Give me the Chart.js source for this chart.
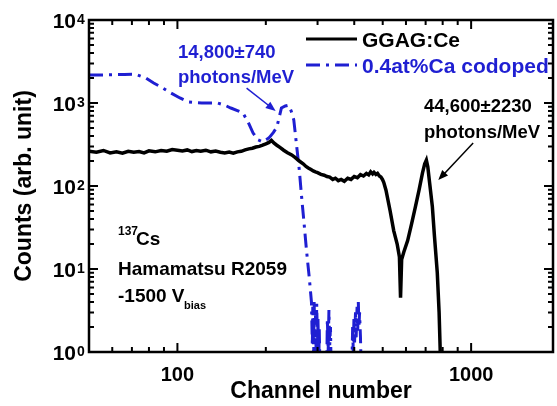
<!DOCTYPE html>
<html>
<head>
<meta charset="utf-8">
<script src="https://cdn.jsdelivr.net/npm/chart.js@4.4.1/dist/chart.umd.min.js"></script>
<style>
  html, body { margin: 0; padding: 0; background: #fff; }
  #wrap { width: 557px; height: 406px; position: relative; }
</style>
</head>
<body>
<div id="wrap"><canvas id="spec"></canvas></div>
<script>
// GGAG:Ce pulse height spectrum (137Cs)
const ggagChannel = [50, 53, 56, 59, 62, 65, 68, 71, 74, 77, 80, 84, 88, 92, 96, 100, 104, 108, 112, 116,
  120, 125, 130, 135, 140, 145, 150, 155, 160, 165, 170, 175, 180, 185, 190, 195, 200, 205, 209, 213,
  218, 224, 230, 237, 245, 252, 260, 268, 274, 279, 285, 290, 295, 300, 308, 316, 323, 330, 338, 345,
  353, 361, 370, 380, 390, 400, 410, 420, 430, 440, 448, 455, 462, 467, 474, 480, 487, 493, 499, 504,
  513, 530, 545, 560, 570, 575, 580, 590, 608, 627, 646, 665, 683, 695, 704, 712,
  722, 738, 750, 767, 778, 785, 790];
const ggagCounts = [262, 255, 268, 250, 258, 248, 262, 255, 260, 250, 265, 258, 268, 262, 275, 270, 265, 272, 260, 268,
  262, 270, 258, 264, 255, 250, 256, 248, 258, 262, 272, 280, 285, 295, 300, 310, 322, 335, 355, 330,
  310, 290, 270, 252, 237, 220, 200, 185, 172, 165, 158, 152, 148, 145, 138, 135, 130, 128, 120, 124,
  116, 120, 114, 124, 120, 130, 126, 137, 132, 142, 136, 148, 140, 146, 138, 142, 132, 128, 120, 111,
  89, 50, 29, 20, 14, 4.5, 13, 16, 22, 35, 56, 90, 144, 185, 205, 170,
  110, 56, 25, 9, 3, 1, 0.8];

// 0.4at% Ca codoped
const caChannel = [50, 55, 60, 66, 72, 78, 83, 89, 95, 102, 109, 115, 121, 130, 137, 145, 152, 160, 167, 174,
  181, 188, 195, 205, 212, 218, 226, 233, 239, 244, 249, 254, 260, 264, 270, 275, 281, 286, 288, 289,
  291, 292, 294, 295, 297, 298, 300, 301, 303, 304, 306, 322, 324, 326, 328, 330, 332, 334, 392, 395,
  397, 399, 401, 404, 406, 409, 411, 413, 415, 417, 420, 423];
const caCounts = [2180, 2180, 2190, 2210, 2220, 2000, 1740, 1520, 1320, 1150, 1030, 1010, 1000, 1000, 1000, 940, 870, 810, 760, 590,
  435, 360, 340, 380, 440, 510, 870, 920, 940, 800, 625, 330, 156, 83, 35, 17, 8, 4, 1.2, 3.5,
  0.8, 4, 1.5, 3, 0.8, 3.8, 1.2, 2.5, 0.7, 2, 0.5, 0.5, 2.5, 1, 3.2, 1.2, 2, 0.5, 0.5, 2,
  1, 2.5, 1.3, 3, 1.5, 3.5, 1.8, 4, 2, 3, 1.5, 0.5];

const xMajor = [100, 1000];
const xMinor = [60, 70, 80, 90, 200, 300, 400, 500, 600, 700, 800, 900];
const yMajor = [1, 10, 100, 1000, 10000];
const yExp = ['0', '1', '2', '3', '4'];
const yMinor = [2, 3, 4, 5, 6, 7, 8, 9, 20, 30, 40, 50, 60, 70, 80, 90,
  200, 300, 400, 500, 600, 700, 800, 900, 2000, 3000, 4000, 5000, 6000, 7000, 8000, 9000];

const blue = '#1f1fd2';
const black = '#000000';
const FONT = '"Liberation Sans", Arial, sans-serif';

const toPts = (xs, ys) => xs.map((x, i) => ({ x, y: ys[i] }));

function arrow(ctx, x1, y1, x2, y2, color) {
  const a = Math.atan2(y2 - y1, x2 - x1);
  ctx.strokeStyle = color;
  ctx.fillStyle = color;
  ctx.lineWidth = 1.5;
  ctx.beginPath();
  ctx.moveTo(x1, y1);
  ctx.lineTo(x2 - 6 * Math.cos(a), y2 - 6 * Math.sin(a));
  ctx.stroke();
  ctx.beginPath();
  ctx.moveTo(x2, y2);
  ctx.lineTo(x2 - 10 * Math.cos(a) + 4 * Math.sin(a), y2 - 10 * Math.sin(a) - 4 * Math.cos(a));
  ctx.lineTo(x2 - 10 * Math.cos(a) - 4 * Math.sin(a), y2 - 10 * Math.sin(a) + 4 * Math.cos(a));
  ctx.closePath();
  ctx.fill();
}

const decor = {
  id: 'decor',
  afterDraw(chart) {
    const { ctx, chartArea: ca, scales: { x, y } } = chart;
    ctx.save();

    // frame
    ctx.strokeStyle = black;
    ctx.lineWidth = 2.5;
    ctx.strokeRect(ca.left, ca.top, ca.right - ca.left, ca.bottom - ca.top);

    // inward ticks on all four sides
    ctx.lineWidth = 2;
    ctx.beginPath();
    const xt = (v, len) => {
      const px = x.getPixelForValue(v);
      ctx.moveTo(px, ca.bottom); ctx.lineTo(px, ca.bottom - len);
      ctx.moveTo(px, ca.top); ctx.lineTo(px, ca.top + len);
    };
    const yt = (v, len) => {
      const py = y.getPixelForValue(v);
      ctx.moveTo(ca.left, py); ctx.lineTo(ca.left + len, py);
      ctx.moveTo(ca.right, py); ctx.lineTo(ca.right - len, py);
    };
    xMajor.forEach(v => xt(v, 9));
    xMinor.forEach(v => xt(v, 5));
    yMajor.forEach(v => yt(v, 9));
    yMinor.forEach(v => yt(v, 5));
    ctx.stroke();

    // y tick labels 10^n
    ctx.fillStyle = black;
    yMajor.forEach((v, i) => {
      const py = y.getPixelForValue(v);
      ctx.font = 'bold 21px ' + FONT;
      ctx.textAlign = 'right';
      ctx.textBaseline = 'middle';
      ctx.fillText('10', 76, py + 2);
      ctx.font = 'bold 14px ' + FONT;
      ctx.textAlign = 'left';
      ctx.textBaseline = 'alphabetic';
      ctx.fillText(yExp[i], 77, py + 4);
    });

    // legend
    ctx.lineWidth = 3;
    ctx.strokeStyle = black;
    ctx.setLineDash([]);
    ctx.beginPath(); ctx.moveTo(306, 39); ctx.lineTo(357, 39); ctx.stroke();
    ctx.strokeStyle = blue;
    ctx.setLineDash([14, 6, 3, 6]);
    ctx.beginPath(); ctx.moveTo(306, 65); ctx.lineTo(357, 65); ctx.stroke();
    ctx.setLineDash([]);
    ctx.textAlign = 'left';
    ctx.textBaseline = 'alphabetic';
    ctx.font = 'bold 21px ' + FONT;
    ctx.fillStyle = black;
    ctx.fillText('GGAG:Ce', 362, 47);
    ctx.fillStyle = blue;
    ctx.fillText('0.4at%Ca codoped', 362, 73);

    // annotations
    ctx.font = 'bold 18.5px ' + FONT;
    ctx.fillStyle = blue;
    ctx.fillText('14,800\u00b1740', 178, 58);
    ctx.fillText('photons/MeV', 178, 83);
    arrow(ctx, x.getPixelForValue(172), y.getPixelForValue(1513),
      x.getPixelForValue(216), y.getPixelForValue(801), blue);
    ctx.fillStyle = black;
    ctx.fillText('44,600\u00b12230', 424, 112);
    ctx.fillText('photons/MeV', 424, 138);
    arrow(ctx, x.getPixelForValue(1016), y.getPixelForValue(330),
      x.getPixelForValue(773), y.getPixelForValue(118), black);

    // source / PMT info
    ctx.fillStyle = black;
    ctx.font = 'bold 12px ' + FONT;
    ctx.fillText('137', 118, 235);
    ctx.font = 'bold 19px ' + FONT;
    ctx.fillText('Cs', 136, 245);
    ctx.fillText('Hamamatsu R2059', 118, 275);
    ctx.fillText('-1500 V', 118, 302);
    ctx.font = 'bold 11px ' + FONT;
    ctx.fillText('bias', 184, 309);

    ctx.restore();
  }
};

new Chart(document.getElementById('spec'), {
  type: 'line',
  data: {
    datasets: [
      {
        label: 'GGAG:Ce',
        data: toPts(ggagChannel, ggagCounts),
        borderColor: black,
        borderWidth: 3.5,
        pointRadius: 0,
        tension: 0,
      },
      {
        label: '0.4at%Ca codoped',
        data: toPts(caChannel, caCounts),
        borderColor: blue,
        borderWidth: 3,
        borderDash: [14, 6, 3, 6],
        pointRadius: 0,
        tension: 0,
      },
    ],
  },
  options: {
    responsive: true,
    maintainAspectRatio: false,
    animation: false,
    events: [],
    layout: { padding: { top: 20, right: 4, left: 0, bottom: 0 } },
    plugins: { legend: { display: false }, tooltip: { enabled: false } },
    scales: {
      x: {
        type: 'logarithmic',
        min: 50,
        max: 1900,
        afterBuildTicks: s => { s.ticks = xMajor.map(v => ({ value: v })); },
        afterFit: s => { s.height = 54; },
        grid: { display: false },
        border: { display: false },
        ticks: {
          autoSkip: false,
          maxRotation: 0,
          padding: 3,
          color: black,
          font: { family: FONT, size: 20, weight: 'bold' },
          callback: v => String(v),
        },
        title: {
          display: true,
          text: 'Channel number',
          color: black,
          font: { family: FONT, size: 23, weight: 'bold' },
          padding: { top: 0, bottom: 1 },
        },
      },
      y: {
        type: 'logarithmic',
        min: 1,
        max: 10000,
        afterFit: s => { s.width = 89; },
        grid: { display: false },
        border: { display: false },
        ticks: { display: false },
        title: {
          display: true,
          text: 'Counts (arb. unit)',
          color: black,
          font: { family: FONT, size: 23, weight: 'bold' },
          padding: { top: 11, bottom: 0 },
        },
      },
    },
  },
  plugins: [decor],
});
</script>
</body>
</html>
